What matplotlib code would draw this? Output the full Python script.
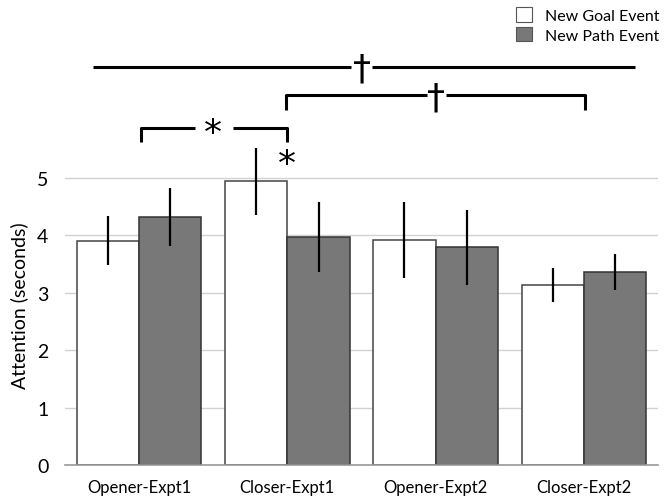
import numpy as np
import matplotlib.pyplot as plt
from matplotlib.patches import Patch

plt.rcParams['font.family'] = ['Lato', 'DejaVu Sans']

conditions = ['Opener-Expt1', 'Closer-Expt1', 'Opener-Expt2', 'Closer-Expt2']
goal_mean = [3.91, 4.94, 3.92, 3.14]
goal_err = [0.42, 0.58, 0.67, 0.30]
path_mean = [4.32, 3.98, 3.79, 3.36]
path_err = [0.51, 0.61, 0.66, 0.31]
series_labels = ['New Goal Event', 'New Path Event']

fig = plt.figure(figsize=(6.65, 5.02), dpi=100)
ax = fig.add_axes([65 / 665, 36 / 502, 593 / 665, (5.6 * 57.4) / 502])

x = np.arange(len(conditions))
w = 0.42
ax.bar(x - w / 2, goal_mean, w, color='white', edgecolor='#444444', linewidth=1.1, zorder=2)
ax.bar(x + w / 2, path_mean, w, color='#787878', edgecolor='#333333', linewidth=1.1, zorder=2)
ax.errorbar(x - w / 2, goal_mean, yerr=goal_err, fmt='none', ecolor='black', elinewidth=1.6, capsize=0, zorder=3)
ax.errorbar(x + w / 2, path_mean, yerr=path_err, fmt='none', ecolor='black', elinewidth=1.6, capsize=0, zorder=3)

ax.set_xlim(-0.5, 3.5)
ax.set_ylim(0, 5.6)
ax.set_yticks([0, 1, 2, 3, 4, 5])
ax.set_yticklabels(['0', '1', '2', '3', '4', '5'], fontsize=14)
ax.set_xticks(x)
ax.set_xticklabels(conditions, fontsize=12)
ax.tick_params(length=0, pad=10)
ax.tick_params(axis='y', pad=12)
ax.yaxis.grid(True, color='#d2d2d2', linewidth=1, zorder=0)
ax.set_axisbelow(True)
for s in ['top', 'right', 'left']:
    ax.spines[s].set_visible(False)
ax.spines['bottom'].set_color('#999999')
ax.spines['bottom'].set_linewidth(1.2)
ax.set_ylabel('Attention (seconds)', fontsize=14, labelpad=6)

# significance brackets
kw = dict(color='black', linewidth=2.2, clip_on=False, solid_capstyle='butt')
# full-width line with dagger
ax.plot([-0.31, 1.43], [6.93, 6.93], **kw)
ax.plot([1.57, 3.345], [6.93, 6.93], **kw)
ax.text(1.505, 6.90, '\u2020', ha='center', va='center', fontsize=26, family='DejaVu Sans')
# Closer-Expt1 vs Closer-Expt2
ax.plot([0.99, 0.99, 1.94], [6.18, 6.45, 6.45], **kw)
ax.plot([2.07, 3.01, 3.01], [6.45, 6.45, 6.18], **kw)
ax.text(2.0, 6.40, '\u2020', ha='center', va='center', fontsize=26, family='DejaVu Sans')
# Opener-Expt1 vs Closer-Expt1
ax.plot([0.013, 0.013, 0.38], [5.63, 5.87, 5.87], **kw)
ax.plot([0.63, 0.995, 0.995], [5.87, 5.87, 5.63], **kw)
ax.text(0.5, 5.78, '*', ha='center', va='center', fontsize=26, family='DejaVu Sans')
# star above Closer-Expt1 goal bar
ax.text(1.0, 5.24, '*', ha='center', va='center', fontsize=26, family='DejaVu Sans')

handles = [Patch(facecolor='white', edgecolor='#555555', linewidth=0.8),
           Patch(facecolor='#787878', edgecolor='#555555', linewidth=0.8)]
fig.legend(handles, series_labels, loc='upper left', bbox_to_anchor=(502 / 665, 1.012),
           frameon=False, fontsize=11.5, handlelength=1.0, handleheight=1.0,
           handletextpad=0.8, labelspacing=0.25)

fig.savefig('out.png', dpi=100)
